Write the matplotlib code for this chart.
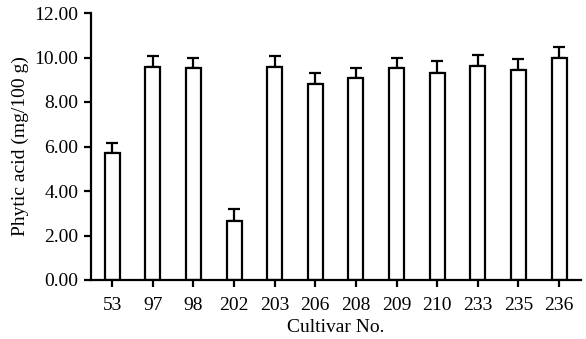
import matplotlib
matplotlib.use("Agg")
import matplotlib.pyplot as plt
import numpy as np

# Дані
cultivars = ["53", "97", "98", "202", "203", "206", "208", "209", "210", "233", "235", "236"]
phytic = [5.70, 9.57, 9.53, 2.67, 9.57, 8.81, 9.08, 9.53, 9.30, 9.60, 9.46, 9.98]
err = [0.45, 0.50, 0.45, 0.51, 0.50, 0.49, 0.47, 0.47, 0.54, 0.50, 0.49, 0.49]
yticks = [0, 2, 4, 6, 8, 10, 12]

plt.rcParams["font.family"] = ["Liberation Serif", "DejaVu Serif"]
plt.rcParams["font.size"] = 14

fig = plt.figure(figsize=(5.86, 3.39), dpi=100)
ax = fig.add_axes([91 / 586, 1 - 280 / 339, (581 - 91) / 586, (280 - 13) / 339])

x = np.arange(len(cultivars))
ax.bar(x, phytic, width=0.37, color="white", edgecolor="black", linewidth=1.6, zorder=2)
ax.errorbar(x, phytic, yerr=[np.zeros(len(err)), err], fmt="none", ecolor="black",
            elinewidth=1.6, capsize=4, capthick=1.6, zorder=1)

ax.set_xlim(-0.52, 11.54)
ax.set_ylim(0, 12)
ax.set_xticks(x)
ax.set_xticklabels(cultivars)
ax.set_yticks(yticks)
ax.set_yticklabels([f"{v:.2f}" for v in yticks])

for s in ("top", "right"):
    ax.spines[s].set_visible(False)
for s in ("left", "bottom"):
    ax.spines[s].set_linewidth(1.6)
ax.tick_params(direction="out", length=5, width=1.6, labelsize=14)
ax.tick_params(axis="x", pad=7)
ax.tick_params(axis="y", pad=4)

ax.set_xlabel("Cultivar No.", fontsize=14, labelpad=4)
ax.set_ylabel("Phytic acid (mg/100 g)", fontsize=14, labelpad=4)

fig.savefig("out.png", dpi=100)
